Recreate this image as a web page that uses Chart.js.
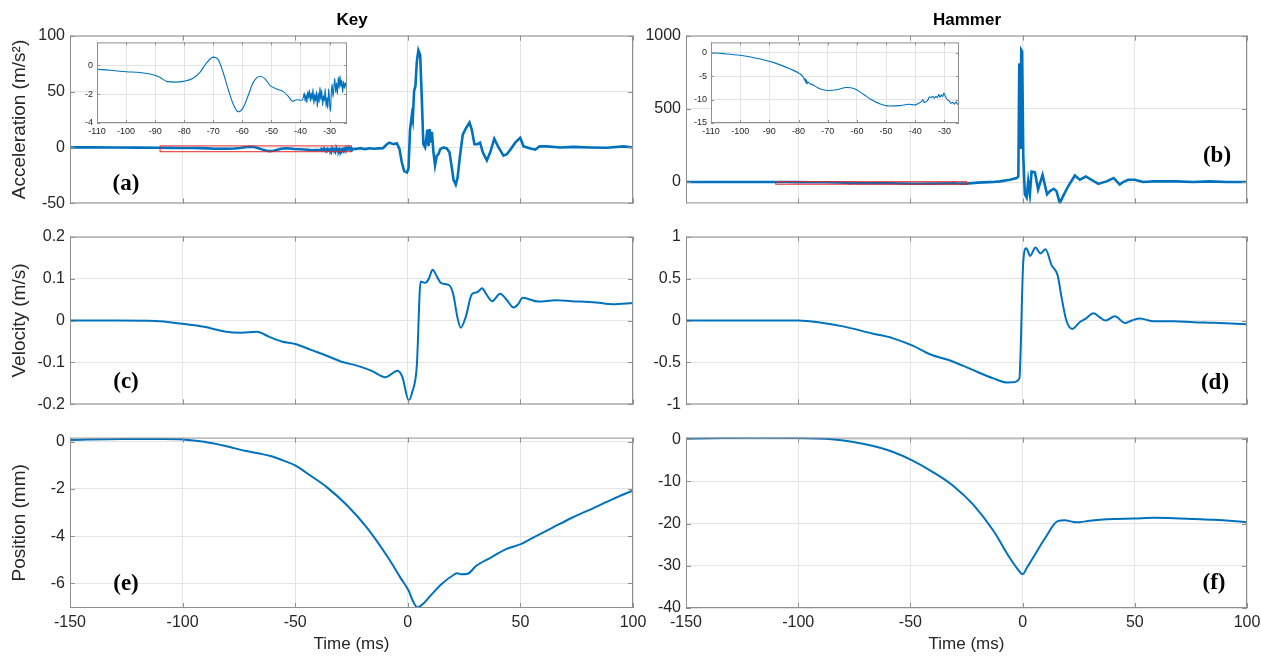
<!DOCTYPE html>
<html><head><meta charset="utf-8">
<script src="https://cdn.jsdelivr.net/npm/chart.js@4.4.1/dist/chart.umd.min.js"></script>
<style>
html,body{margin:0;padding:0;background:#fff;overflow:hidden;width:1261px;height:657px;position:relative;font-family:"Liberation Sans",Arial,sans-serif}
canvas{position:absolute}
.lbl{position:absolute;font-family:"Liberation Serif","Times New Roman",serif;font-weight:bold;font-size:23px;line-height:23px;transform:translate(-50%,-50%);color:#000;white-space:nowrap}
.ttl{position:absolute;font-weight:bold;font-size:17px;line-height:17px;transform:translate(-50%,-50%);color:#000;white-space:nowrap}
</style></head><body>
<script>
// ---------- DATA (time in ms) ----------
const timeTicks = [-150, -100, -50, 0, 50, 100];
const zoomTimeTicks = [-110, -100, -90, -80, -70, -60, -50, -40, -30];
const keyAccTicks = [-50, 0, 50, 100];
const hamAccTicks = [0, 500, 1000];
const keyVelTicks = [-0.2, -0.1, 0, 0.1, 0.2];
const hamVelTicks = [-1, -0.5, 0, 0.5, 1];
const keyPosTicks = [-6, -4, -2, 0];
const hamPosTicks = [-40, -30, -20, -10, 0];
const keyZoomTicks = [-4, -2, 0];
const hamZoomTicks = [-15, -10, -5, 0];
const columnTitles = ['Key', 'Hammer'];
const panelLabels = ['(a)', '(b)', '(c)', '(d)', '(e)', '(f)'];

// Key acceleration (m/s^2)
const keyAccPre = [[-150,0.1],[-140,0.05],[-130,-0.05],[-120,-0.15]];
const keyAccZoom = [[-110,-0.27],[-105.6,-0.33],[-99.9,-0.44],[-95.3,-0.49],[-91.8,-0.6],[-88.4,-0.82],[-86.1,-1.11],[-83.2,-1.16],[-80.3,-1.11],[-76.9,-0.89],[-74.6,-0.49],[-72.3,0.18],[-70,0.58],[-68.3,0.4],[-66.6,-0.49],[-64.8,-1.71],[-63.1,-2.71],[-61.4,-3.22],[-59.7,-2.93],[-57.9,-2.04],[-56.2,-1.16],[-53.9,-0.75],[-52.2,-0.93],[-50.5,-1.38],[-48.2,-1.64],[-45.9,-1.82],[-44.1,-2.16],[-42.8,-2.49],[-41.3,-2.38],[-39.5,-2.42],
[-39.0,-2.2],[-38.7,-1.9],[-38.4,-2.5],[-38.1,-2.0],[-37.8,-2.6],[-37.5,-1.8],[-37.2,-2.3],[-36.9,-1.7],[-36.6,-2.5],[-36.3,-1.9],[-36.0,-2.4],[-35.7,-1.6],[-35.4,-2.7],[-35.1,-2.0],[-34.8,-2.5],[-34.5,-1.8],[-34.2,-2.9],[-33.9,-1.9],[-33.6,-2.6],[-33.3,-1.5],[-33.0,-2.4],[-32.7,-1.7],[-32.4,-2.8],[-32.1,-2.1],[-31.8,-2.5],[-31.5,-1.6],[-31.2,-2.9],[-30.9,-2.2],[-30.6,-3.0],[-30.3,-1.6],[-30.0,-2.6],[-29.7,-3.2],[-29.4,-1.9],[-29.1,-1.3],[-28.8,-2.2],[-28.5,-1.5],[-28.2,-0.9],[-27.9,-1.9],[-27.6,-1.2],[-27.3,-2.0],[-27.0,-0.8],[-26.7,-1.6],[-26.4,-0.7],[-26.1,-1.5],[-25.8,-1.0],[-25.5,-1.9],[-25.2,-1.1],[-24.9,-1.6],[-24.6,-1.2],[-24.3,-1.5]];
const keyAccPost = [[-23,-1.3],[-21,-0.6],[-19,-1.5],[-17,-0.7],[-15,-1.2],[-13,-0.8],[-11,-0.6],[-9.3,2.9],[-8.2,4.3],[-6.4,2.9],[-4.9,3.7],[-3.7,-1.2],[-2.7,-13],[-1.6,-21.2],[-0.4,-22.3],[0.3,-18.8],[1.0,15.9],[1.8,28.9],[2.2,24.6],[2.8,50.6],[3.4,55],[4.0,76.6],[4.7,86.8],[5.5,82.5],[6.2,44.8],[6.9,2.9],[7.7,0],[8.7,15.9],[9.2,1.2],[9.7,16.5],[10.3,4.3],[10.7,14],[11.4,-4.3],[12.1,-16],[12.9,-7.3],[13.6,-6],[14.4,-1.5],[15.8,0],[17.3,-0.9],[18.5,-4.3],[19.6,-18.8],[20.3,-29],[21.3,-33.3],[22.1,-27],[23.2,-7],[24.4,11.5],[25.9,17.4],[27.4,22.2],[28.4,15.9],[29.6,2.9],[30.9,2.9],[32.1,4.3],[33.3,-4.3],[35.1,-11.6],[36.6,-4.3],[38.4,7.8],[40.3,0],[42.5,-7.3],[44,-6],[45.5,-2],[47.7,4.3],[49.9,8.7],[51.4,1],[54.4,-0.9],[56.6,-2],[58.5,1],[61.8,1],[67.7,0],[73.6,0.5],[81,0],[88.4,-0.3],[95.8,1],[100,0]];

// Hammer acceleration (m/s^2)
const hamAccPre = [[-150,0.5],[-130,0.3],[-115,0.1]];
const hamAccZoom = [[-110,0],[-105.8,-0.2],[-100.1,-0.55],[-94.4,-1.17],[-88.7,-2.06],[-83,-3.44],[-79.6,-4.47],[-78.3,-5.3],[-77.9,-5.9],[-77.7,-5.5],[-77.5,-6.4],[-77.3,-5.8],[-77.1,-6.7],[-76.8,-6.2],[-76.4,-6.5],[-75,-6.88],[-72.7,-7.7],[-69.9,-8.05],[-67,-7.91],[-63.6,-7.43],[-60.8,-7.7],[-57.9,-8.8],[-55.1,-9.98],[-52.2,-10.87],[-48.8,-11.36],[-45.4,-11.29],[-42,-11.0],[-40.3,-11.15],[-38.5,-10.67],[-37.8,-10.4],[-37.4,-10.0],[-36.9,-10.6],[-36.3,-10.46],[-35.6,-10.0],[-35.1,-9.4],[-34.6,-9.6],[-34,-9.29],[-33.5,-9.7],[-32.9,-9.3],[-32.4,-9.6],[-31.9,-8.9],[-31.5,-9.5],[-31,-9.0],[-30.6,-9.36],[-30.2,-8.6],[-29.8,-9.1],[-29.4,-9.6],[-28.9,-10.1],[-28.3,-10.3],[-27.8,-10.8],[-27.2,-10.6],[-26.6,-11.0],[-26,-10.5],[-25.5,-11.0],[-25,-10.9]];
const hamAccPost = [[-24,-9.5],[-20,-4],[-15,-1],[-13.1,0],[-10.1,4.4],[-5.7,15.5],[-2.7,26.6],[-1.9,37.6],[-1.5,801],[-1.2,812],[-0.9,226],[-0.6,901],[-0.2,890],[0.3,181],[1.0,-84],[1.8,-106],[2.5,4.4],[3.25,-84],[4.0,71],[5.5,66],[6.9,-51],[8.9,48.5],[10.9,-84],[12.2,-62],[13.9,-46],[15.1,-62],[16.6,-144],[18.1,-95],[20.3,-29],[23.3,44],[25.5,15.5],[28.2,37.8],[30.7,15.5],[33.7,-13],[37.4,4.4],[40.6,26.6],[43.3,-17.7],[44.8,0],[47,15.5],[50,15.5],[53.7,0],[58.2,4.4],[68.6,4.4],[76,0],[83.4,4.4],[90.8,0],[100,0]];

// Key velocity (m/s)
const keyVel = [[-150,0],[-130,0],[-112,-0.001],[-100,-0.008],[-90.5,-0.015],[-81.4,-0.026],[-74,-0.029],[-67,-0.027],[-61.5,-0.039],[-56,-0.05],[-50,-0.056],[-43,-0.07],[-36,-0.084],[-29,-0.099],[-23,-0.107],[-16,-0.12],[-10,-0.135],[-4.5,-0.12],[-2.4,-0.135],[0.4,-0.19],[2,-0.17],[4,-0.108],[5.7,0.093],[7.5,0.09],[8.4,0.092],[9.4,0.1],[11,0.121],[13,0.104],[14.8,0.089],[18.4,0.084],[20.2,0.062],[22,0.008],[23.5,-0.017],[25.7,0.008],[28.4,0.062],[31,0.068],[33,0.077],[34.7,0.064],[37.5,0.046],[41,0.064],[43.8,0.05],[47,0.031],[49,0.039],[51,0.054],[58,0.045],[65.5,0.048],[72.8,0.046],[83.6,0.043],[91,0.039],[100,0.042]];

// Hammer velocity (m/s)
const hamVel = [[-150,0],[-125,0],[-100,0],[-90.4,-0.023],[-80,-0.07],[-67,-0.155],[-58,-0.21],[-49,-0.3],[-41,-0.405],[-32,-0.48],[-23,-0.58],[-13,-0.69],[-6.8,-0.74],[-4,-0.735],[-1.4,-0.69],[-1,-0.46],[0.3,0.7],[1.6,0.86],[3.4,0.77],[5.7,0.87],[8,0.8],[10.2,0.85],[12.9,0.66],[15.6,0.54],[17.4,0.27],[19.5,0],[22.2,-0.1],[25.4,-0.02],[28,0.02],[31.6,0.085],[34.3,0.04],[37,0],[41.1,0.05],[45.6,-0.03],[48.6,0],[52.2,0.025],[58.4,-0.01],[67.4,-0.008],[76.3,-0.02],[85.3,-0.027],[100,-0.045]];

// Key position (mm)
const keyPos = [[-150,0.08],[-126.8,0.12],[-108.6,0.12],[-100,0.1],[-90.4,0],[-81.4,-0.17],[-72.3,-0.38],[-61.4,-0.59],[-54,-0.84],[-50,-1.0],[-43.3,-1.43],[-36,-1.92],[-27,-2.69],[-18,-3.66],[-8.7,-4.92],[-3.3,-5.76],[0.4,-6.32],[2.2,-6.74],[4.3,-7.03],[6.7,-6.88],[9.4,-6.6],[14.9,-6.04],[20.3,-5.65],[22,-5.58],[23.9,-5.62],[26.6,-5.6],[30.3,-5.27],[36.7,-4.92],[43.9,-4.54],[50.2,-4.34],[54.8,-4.11],[63.9,-3.66],[72.9,-3.22],[82,-2.83],[91,-2.43],[100,-2.06]];

// Hammer position (mm)
const hamPos = [[-150,0.2],[-120.8,0.35],[-100,0.3],[-85,0],[-76,-0.6],[-67,-1.55],[-58,-2.95],[-49,-5.05],[-40,-7.77],[-31,-11.0],[-22,-15.5],[-13,-21.7],[-5.9,-27.96],[-2.3,-30.7],[0,-32.0],[2.1,-30.3],[4.8,-27.96],[10.2,-23.3],[15.6,-19.4],[18.8,-19.2],[22.7,-19.6],[25.4,-19.65],[29.9,-19.3],[40.6,-18.9],[49.6,-18.8],[58.5,-18.6],[67.5,-18.7],[76.4,-18.9],[85.3,-19.1],[100,-19.65]];

// zoom window drawn as red rectangle [t0, t1, a0, a1]
const keyZoomBox = [-110, -25, -3.8, 1.4];
const hamZoomBox = [-110, -25, -15, 2.2];

// ---------- RENDERING ----------
const BLUE = '#0072BD';
const GRID = '#e4e4e4';
const FRAME = '#8f8f8f';
const TXT = '#262626';
const FONT = '"Liberation Sans", Arial, sans-serif';
const fmt = v => String(+(+v).toFixed(4));

const framePlugin = {
  id: 'frame',
  beforeDraw(chart, args, opts) {
    if (opts.fill) {
      const a = chart.chartArea, ctx = chart.ctx;
      ctx.save(); ctx.fillStyle = '#fff';
      ctx.fillRect(a.left, a.top, a.right - a.left, a.bottom - a.top);
      ctx.restore();
    }
  },
  afterDatasetsDraw(chart, args, opts) {
    if (!opts.rect) return;
    const {ctx, scales: {x, y}} = chart;
    const [t0, t1, v0, v1] = opts.rect;
    const X0 = x.getPixelForValue(t0), X1 = x.getPixelForValue(t1);
    const Y0 = y.getPixelForValue(v1), Y1 = y.getPixelForValue(v0);
    ctx.save(); ctx.strokeStyle = '#e3262c'; ctx.lineWidth = 1;
    ctx.strokeRect(X0, Y0, X1 - X0, Math.max(Y1 - Y0, 2));
    ctx.restore();
  },
  afterDraw(chart, args, opts) {
    const {ctx, chartArea: a, scales: {x, y}} = chart;
    const tl = opts.tick || 5;
    ctx.save();
    ctx.strokeStyle = FRAME; ctx.lineWidth = 1;
    ctx.strokeRect(a.left + 0.5, a.top + 0.5, a.right - a.left - 1, a.bottom - a.top - 1);
    ctx.beginPath();
    for (const t of x.ticks) {
      const px = Math.round(x.getPixelForValue(t.value)) + 0.5;
      ctx.moveTo(px, a.bottom); ctx.lineTo(px, a.bottom - tl);
      ctx.moveTo(px, a.top); ctx.lineTo(px, a.top + tl);
    }
    for (const t of y.ticks) {
      const py = Math.round(y.getPixelForValue(t.value)) + 0.5;
      ctx.moveTo(a.left, py); ctx.lineTo(a.left + tl, py);
      ctx.moveTo(a.right, py); ctx.lineTo(a.right - tl, py);
    }
    ctx.stroke();
    ctx.restore();
  }
};

function makePlot(p) {
  const padT = p.padT ?? 12, padR = p.padR ?? 16, padB = p.padB ?? 12;
  const W = p.yW + p.plotW + padR;
  const H = padT + p.plotH + (p.xH ? p.xH : padB);
  const c = document.createElement('canvas');
  c.width = W; c.height = H;
  c.style.left = p.left + 'px'; c.style.top = p.top + 'px';
  c.style.width = W + 'px'; c.style.height = H + 'px';
  document.body.appendChild(c);
  const fs = p.fs || 16;
  const xt = p.xTicks || timeTicks;
  new Chart(c, {
    type: 'line',
    data: { datasets: [{
      data: p.data.map(([t, v]) => ({x: t, y: v})),
      borderColor: BLUE, borderWidth: p.lw, pointRadius: 0,
      tension: 0, cubicInterpolationMode: p.mono ? 'monotone' : 'default', fill: false
    }]},
    options: {
      responsive: false, animation: false, devicePixelRatio: 1,
      layout: { padding: { top: padT, right: padR, bottom: p.xH ? 0 : padB, left: 0 } },
      plugins: { legend: {display: false}, tooltip: {enabled: false},
        frame: { rect: p.rect || null, fill: !!p.fill, tick: p.tick || 5 } },
      scales: {
        x: {
          type: 'linear', min: p.xmin ?? timeTicks[0], max: p.xmax ?? timeTicks[timeTicks.length - 1],
          border: {display: false},
          grid: { color: GRID, lineWidth: 1, drawTicks: false },
          ticks: { display: !!p.xLabels, autoSkip: false,
                   maxRotation: 0, padding: p.xPad ?? 5, color: TXT, font: {family: FONT, size: fs}, callback: fmt },
          title: { display: !!p.xTitle, text: p.xTitle || '', color: TXT,
                   font: {family: FONT, size: 17}, padding: {top: 0, bottom: 2} },
          afterBuildTicks: s => { s.ticks = xt.map(v => ({value: v})); },
          afterFit: s => { s.height = p.xH || 0; }
        },
        y: {
          type: 'linear', min: p.ymin, max: p.ymax,
          border: {display: false},
          grid: { color: GRID, lineWidth: 1, drawTicks: false },
          ticks: { autoSkip: false, padding: p.yPad ?? 5,
                   color: TXT, font: {family: FONT, size: fs}, callback: fmt },
          title: { display: !!p.yTitle, text: p.yTitle || '', color: TXT,
                   font: {family: FONT, size: 19}, padding: {top: 8, bottom: 0} },
          afterBuildTicks: s => { s.ticks = p.yTicks.map(v => ({value: v})); },
          afterFit: s => { s.width = p.yW; }
        }
      }
    },
    plugins: [framePlugin]
  });
}

const L = {left: 0, yW: 70, plotW: 563};
const R = {left: 634, yW: 52, plotW: 561};
const rowTop = [33, 234, 435];
const plotH = 173;

// Row 1: acceleration
makePlot({...L, top: rowTop[0] - 12, plotH, data: keyAccPre.concat(keyAccZoom, keyAccPost), lw: 2.6,
  ymin: -50, ymax: 100, yTicks: keyAccTicks, yTitle: 'Acceleration (m/s²)', rect: keyZoomBox});
makePlot({...R, top: rowTop[0] - 12, plotH, data: hamAccPre.concat(hamAccZoom, hamAccPost), lw: 2.6,
  ymin: -146, ymax: 1000, yTicks: hamAccTicks, rect: hamZoomBox});
// Row 2: velocity
makePlot({...L, top: rowTop[1] - 12, plotH, data: keyVel, lw: 2, mono: true,
  ymin: -0.2, ymax: 0.2, yTicks: keyVelTicks, yTitle: 'Velocity (m/s)'});
makePlot({...R, top: rowTop[1] - 12, plotH, data: hamVel, lw: 2, mono: true,
  ymin: -1, ymax: 1, yTicks: hamVelTicks});
// Row 3: position
makePlot({...L, top: rowTop[2] - 12, plotH, data: keyPos, lw: 2, mono: true, xH: 49, padR: 22, xLabels: true, xTitle: 'Time (ms)',
  ymin: -7.05, ymax: 0.18, yTicks: keyPosTicks, yTitle: 'Position (mm)'});
makePlot({...R, top: rowTop[2] - 12, plotH, data: hamPos, lw: 2, mono: true, xH: 49, padR: 22, xLabels: true, xTitle: 'Time (ms)',
  ymin: -40, ymax: 0.4, yTicks: hamPosTicks});

// Insets
makePlot({left: 73, top: 33, yW: 24, plotW: 250, plotH: 84, padT: 6, padR: 12, xH: 16, xLabels: true,
  data: keyAccZoom, lw: 1.1, mono: true, fill: true, fs: 9, xPad: 3, yPad: 4, tick: 3,
  xmin: -110, xmax: -24, xTicks: zoomTimeTicks, ymin: -4, ymax: 1.6, yTicks: keyZoomTicks});
makePlot({left: 687, top: 33, yW: 24, plotW: 248, plotH: 84, padT: 6, padR: 12, xH: 16, xLabels: true,
  data: hamAccZoom, lw: 1.1, mono: true, fill: true, fs: 9, xPad: 3, yPad: 4, tick: 3,
  xmin: -110, xmax: -25, xTicks: zoomTimeTicks, ymin: -15, ymax: 2.2, yTicks: hamZoomTicks});

// Titles and panel labels
function addText(cls, text, x, y) {
  const d = document.createElement('div');
  d.className = cls; d.textContent = text;
  d.style.left = x + 'px'; d.style.top = y + 'px';
  document.body.appendChild(d);
}
addText('ttl', columnTitles[0], 352, 19);
addText('ttl', columnTitles[1], 967, 19);
const labelPos = [[126, 182], [1217, 154], [126, 380], [1215, 381], [126, 582], [1214, 581]];
panelLabels.forEach((t, i) => addText('lbl', t, labelPos[i][0], labelPos[i][1]));
</script>
</body></html>
